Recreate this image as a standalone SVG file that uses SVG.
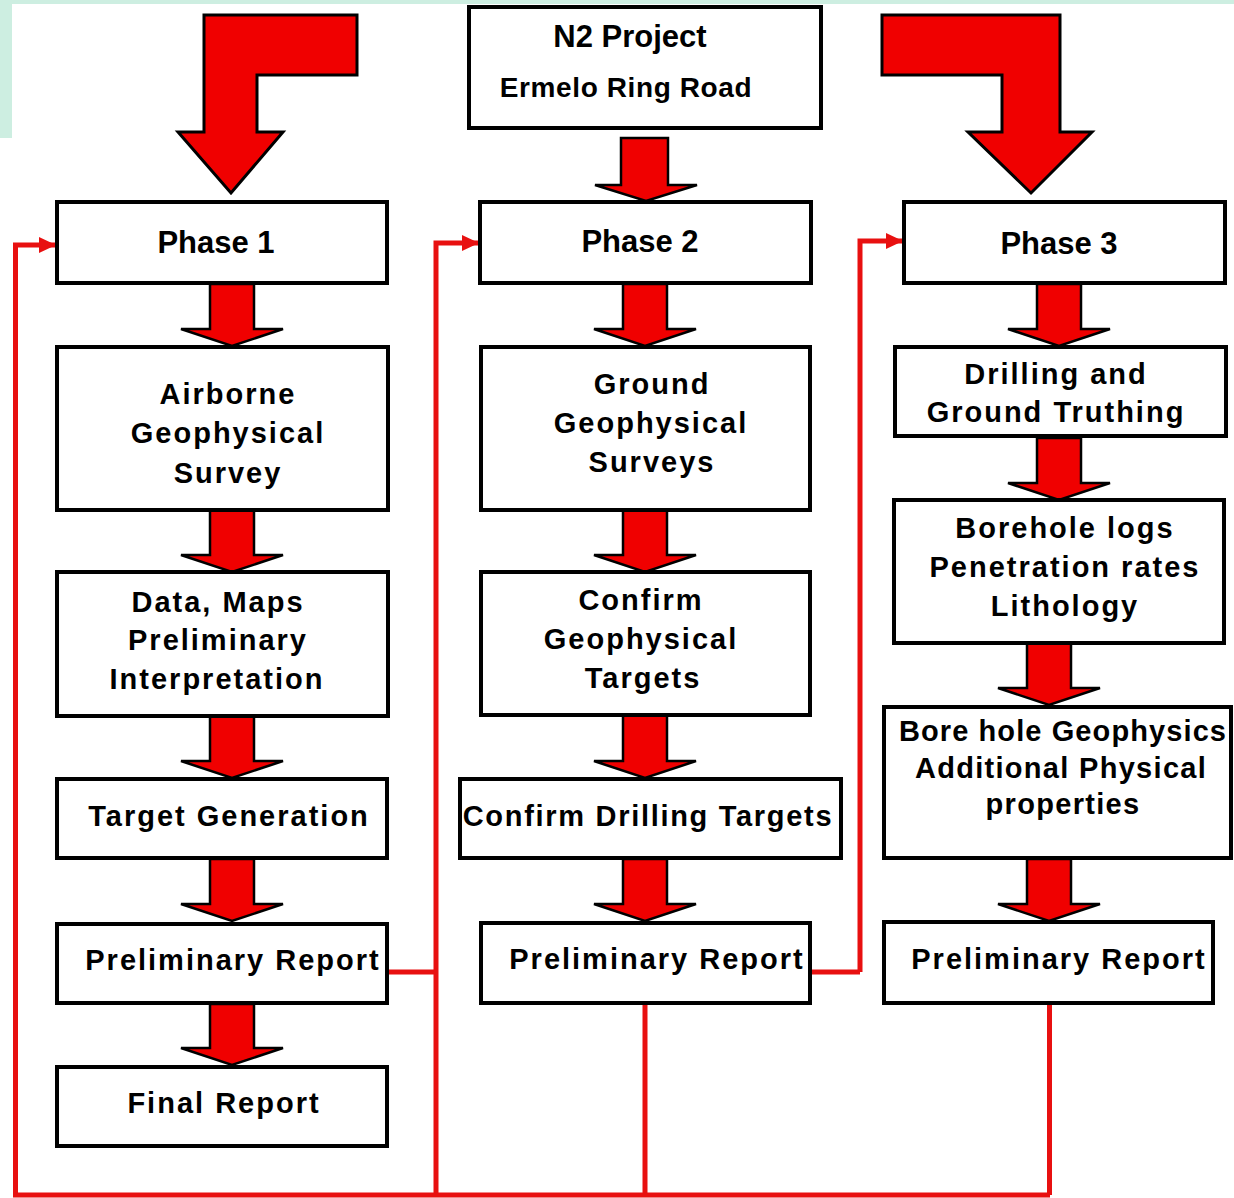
<svg xmlns="http://www.w3.org/2000/svg" width="1234" height="1198" viewBox="0 0 1234 1198">
<style>
.box{fill:#fff;stroke:#000;stroke-width:4}
.arr{fill:#f00000;stroke:#000;stroke-width:2.5;stroke-linejoin:miter}
.big{fill:#f00000;stroke:#000;stroke-width:3;stroke-linejoin:miter}
.red{fill:none;stroke:#e81010;stroke-width:5;stroke-linejoin:miter}
text{font-family:"Liberation Sans",Arial,sans-serif;font-weight:bold;fill:#000;text-anchor:middle}
.t{font-size:29px;letter-spacing:2px}
.ph{font-size:31px}
</style>
<defs>
<marker id="ah" markerUnits="userSpaceOnUse" markerWidth="17" markerHeight="17" refX="16" refY="8" orient="auto">
<path d="M0,0 L17,8 L0,16 Z" fill="#e81010"/>
</marker>
</defs>
<rect width="1234" height="1198" fill="#fff"/>
<rect x="0" y="0" width="1234" height="4" fill="#cdeee1"/>
<rect x="0" y="0" width="12" height="138" fill="#cdeee1"/>

<g id="connectors">
<polyline class="red" points="15.5,1195 15.5,245 55,245" marker-end="url(#ah)"/>
<polyline class="red" points="436,1195 436,243 478,243" marker-end="url(#ah)"/>
<polyline class="red" points="860,972 860,241 902,241" marker-end="url(#ah)"/>
<polyline class="red" points="13,1195 1050,1195"/>
<polyline class="red" points="388,972 436,972"/>
<polyline class="red" points="810,972 860,972"/>
<polyline class="red" points="645,1003 645,1195"/>
<polyline class="red" points="1049.5,1003 1049.5,1195"/>
</g>

<g id="arrows">
<polygon id="big-left" class="big" points="204,15 357,15 357,75 257,75 257,132 283,132 231,193 178,132 204,132"/>
<polygon id="big-right" class="big" points="882,15 1060,15 1060,132 1092,132 1031,193 968,132 1002,132 1002,75 882,75"/>
<polygon class="arr" points="621,138 668,138 668,185 697,185 646,201 595,185 621,185"/>
<polygon class="arr" points="210,284 254,284 254,329 283,329 232,346 181,329 210,329"/>
<polygon class="arr" points="210,510 254,510 254,555 283,555 232,572 181,555 210,555"/>
<polygon class="arr" points="210,715 254,715 254,761 283,761 232,778 181,761 210,761"/>
<polygon class="arr" points="210,859 254,859 254,904 283,904 232,921 181,904 210,904"/>
<polygon class="arr" points="210,1004 254,1004 254,1048 283,1048 232,1065 181,1048 210,1048"/>
<polygon class="arr" points="623,284 667,284 667,329 696,329 645,346 594,329 623,329"/>
<polygon class="arr" points="623,510 667,510 667,555 696,555 645,572 594,555 623,555"/>
<polygon class="arr" points="623,715 667,715 667,761 696,761 645,778 594,761 623,761"/>
<polygon class="arr" points="623,859 667,859 667,904 696,904 645,921 594,904 623,904"/>
<polygon class="arr" points="1037,284 1081,284 1081,329 1110,329 1059,346 1008,329 1037,329"/>
<polygon class="arr" points="1037,438 1081,438 1081,483 1110,483 1059,500 1008,483 1037,483"/>
<polygon class="arr" points="1027,643 1071,643 1071,688 1100,688 1049,705 998,688 1027,688"/>
<polygon class="arr" points="1027,859 1071,859 1071,904 1100,904 1049,921 998,904 1027,904"/>
</g>

<g id="n2">
<rect class="box" x="469" y="7" width="352" height="121"/>
<text x="630" y="47" style="font-size:31px">N2 Project</text>
<text x="626" y="97" style="font-size:28px;letter-spacing:0.6px">Ermelo Ring Road</text>
</g>

<g id="phase1">
<rect class="box" x="57" y="202" width="330" height="81"/>
<text class="ph" x="216" y="253">Phase 1</text>
</g>
<g id="airborne">
<rect class="box" x="57" y="347" width="331" height="163"/>
<text class="t" x="228" y="404">Airborne</text>
<text class="t" x="228" y="443">Geophysical</text>
<text class="t" x="228" y="483">Survey</text>
</g>
<g id="datamaps">
<rect class="box" x="57" y="572" width="331" height="144"/>
<text class="t" x="218" y="612">Data, Maps</text>
<text class="t" x="218" y="650">Preliminary</text>
<text class="t" x="217" y="689">Interpretation</text>
</g>
<g id="targetgen">
<rect class="box" x="57" y="779" width="330" height="79"/>
<text class="t" x="229" y="826">Target Generation</text>
</g>
<g id="prelim1">
<rect class="box" x="57" y="924" width="330" height="79"/>
<text class="t" x="233" y="970">Preliminary Report</text>
</g>
<g id="final">
<rect class="box" x="57" y="1067" width="330" height="79"/>
<text class="t" x="224" y="1113">Final Report</text>
</g>

<g id="phase2">
<rect class="box" x="480" y="202" width="331" height="81"/>
<text class="ph" x="640" y="252">Phase 2</text>
</g>
<g id="ground">
<rect class="box" x="481" y="347" width="329" height="163"/>
<text class="t" x="652" y="394">Ground</text>
<text class="t" x="651" y="433">Geophysical</text>
<text class="t" x="652" y="472">Surveys</text>
</g>
<g id="confirmgeo">
<rect class="box" x="481" y="572" width="329" height="143"/>
<text class="t" x="641" y="610">Confirm</text>
<text class="t" x="641" y="649">Geophysical</text>
<text class="t" x="643" y="688">Targets</text>
</g>
<g id="confirmdrill">
<rect class="box" x="460" y="779" width="381" height="79"/>
<text class="t" x="648" y="826" style="letter-spacing:1.7px">Confirm Drilling Targets</text>
</g>
<g id="prelim2">
<rect class="box" x="481" y="923" width="329" height="80"/>
<text class="t" x="657" y="969">Preliminary Report</text>
</g>

<g id="phase3">
<rect class="box" x="904" y="202" width="321" height="81"/>
<text class="ph" x="1059" y="254">Phase 3</text>
</g>
<g id="drilling">
<rect class="box" x="895" y="347" width="331" height="89"/>
<text class="t" x="1056" y="384">Drilling and</text>
<text class="t" x="1056" y="422">Ground Truthing</text>
</g>
<g id="borehole">
<rect class="box" x="894" y="500" width="330" height="143"/>
<text class="t" x="1065" y="538">Borehole logs</text>
<text class="t" x="1065" y="577">Penetration rates</text>
<text class="t" x="1065" y="616">Lithology</text>
</g>
<g id="boreholegeo">
<rect class="box" x="884" y="707" width="347" height="151"/>
<text class="t" x="1063" y="741" style="letter-spacing:1.1px">Bore hole Geophysics</text>
<text class="t" x="1061" y="778" style="letter-spacing:1.3px">Additional Physical</text>
<text class="t" x="1063" y="814" style="letter-spacing:1.3px">properties</text>
</g>
<g id="prelim3">
<rect class="box" x="884" y="922" width="329" height="81"/>
<text class="t" x="1059" y="969">Preliminary Report</text>
</g>
</svg>
